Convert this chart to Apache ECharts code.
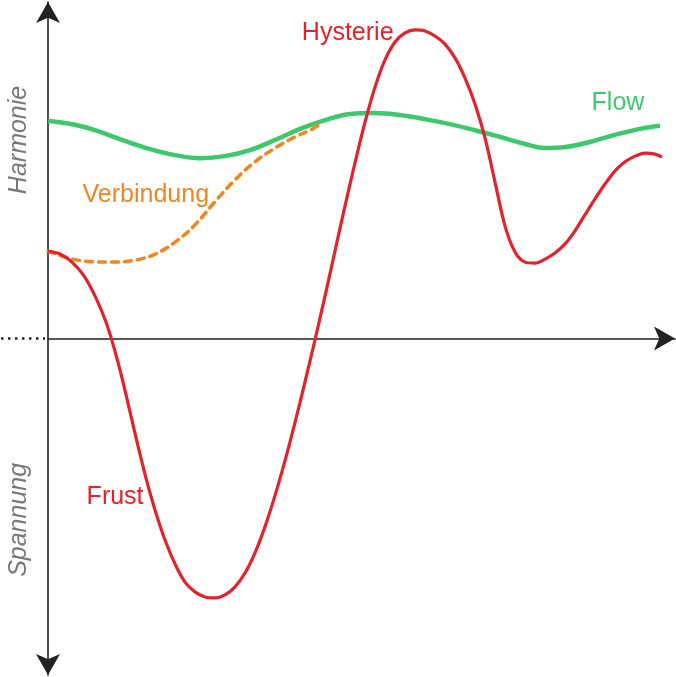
<!DOCTYPE html>
<html><head><meta charset="utf-8">
<script src="https://cdn.jsdelivr.net/npm/echarts@6/dist/echarts.min.js"></script>
<style>html,body{margin:0;padding:0;background:#fff}#c{width:676px;height:677px}</style>
</head><body><div id="c"></div>
<script>
// Schematic curves, x in 0..100 (time), y in -100..100 (Spannung .. Harmonie)
const redCurve = [[0,26.0],[1.91,25.1],[3.83,22.7],[5.74,18.6],[7.66,12.0],[9.25,4.9],[10.53,-2.8],[11.80,-11.7],[13.08,-21.8],[14.35,-31.9],[15.63,-41.5],[17.07,-51.0],[18.66,-59.9],[20.26,-67.0],[21.85,-72.4],[23.44,-75.3],[25.04,-76.8],[26.63,-77.1],[28.23,-76.2],[29.82,-73.8],[31.42,-69.7],[33.01,-63.7],[34.61,-55.9],[36.20,-46.7],[37.80,-36.3],[39.39,-25.0],[40.99,-12.9],[42.58,-0.4],[44.18,12.6],[45.77,26.0],[47.37,39.4],[48.96,52.2],[50.56,64.3],[52.15,74.7],[53.75,82.8],[55.34,88.1],[56.94,90.8],[58.53,91.7],[60.13,91.4],[61.72,89.9],[63.32,87.5],[64.91,83.4],[66.51,77.4],[68.10,69.7],[69.70,59.6],[71.29,46.5],[72.89,33.4],[74.48,25.7],[76.08,22.7],[77.67,22.4],[79.27,23.6],[80.86,25.4],[82.46,28.1],[84.05,32.0],[85.65,36.8],[87.24,41.5],[88.84,45.9],[90.43,49.8],[92.03,52.5],[93.62,54.2],[95.22,55.1],[96.81,54.8],[97.93,53.9]];
const greenCurve = [[0,64.7],[4.3,63.5],[8.3,61.4],[12.3,58.7],[16.3,56.3],[20.3,54.5],[24.2,53.6],[28.2,54.2],[32.2,56.0],[36.2,59.0],[40.2,62.3],[44.2,64.9],[48.2,66.7],[52.2,67.0],[56.1,66.4],[60.1,65.2],[64.1,63.7],[68.1,61.9],[72.1,59.9],[76.1,57.8],[79.3,56.6],[82.5,56.9],[86.4,58.4],[90.4,60.5],[94.4,62.3],[97.6,63.2]];
const orangeCurve = [[0,26.0],[2.7,24.2],[5.9,23.0],[9.9,22.7],[13.9,23.3],[17.1,25.1],[20.3,28.7],[23.4,33.7],[26.6,40.6],[29.8,47.1],[33.0,52.5],[36.2,56.6],[39.4,59.9],[41.8,61.9],[43.4,63.7]];
const negativeAxisStub = [[-7.66,0],[0,0]];
const curveLabels = [
  {name:'Hysterie', value:[47.8,90.8], color:'#e3222b'},
  {name:'Flow', value:[90.9,70.0], color:'#3cc96b'},
  {name:'Verbindung', value:[15.6,42.6], color:'#f0861f'},
  {name:'Frust', value:[10.7,-47.1], color:'#e3222b'}
];
const axisTitles = ['Harmonie','Spannung'];
const axisTitleY = [59.0,-53.9];

const chart = echarts.init(document.getElementById('c'));
const FONT = 'Liberation Sans, Arial, sans-serif';
chart.setOption({
  animation:false,
  backgroundColor:'#fff',
  grid:{left:48,right:1,top:2,bottom:2},
  xAxis:{type:'value',min:0,max:100,
    axisLine:{onZero:true,symbol:['none','arrow'],symbolSize:[18,21],lineStyle:{color:'#222',width:1.6}},
    axisTick:{show:false},axisLabel:{show:false},splitLine:{show:false}},
  yAxis:{type:'value',min:-100,max:100,
    axisLine:{onZero:true,symbol:['arrow','arrow'],symbolSize:[18,21],lineStyle:{color:'#222',width:1.6}},
    axisTick:{show:false},axisLabel:{show:false},splitLine:{show:false}},
  series:[
    {type:'line',data:greenCurve,smooth:0.4,symbol:'none',lineStyle:{color:'#3cc96b',width:4.5},z:2},
    {type:'line',data:orangeCurve,smooth:0.4,symbol:'none',lineStyle:{color:'#f0861f',width:3.5,type:[7,6],cap:'round'},z:3},
    {type:'line',data:redCurve,smooth:0.3,symbol:'none',lineStyle:{color:'#e3222b',width:3.2},z:4},
    {type:'scatter',symbolSize:0,clip:false,silent:true,itemStyle:{opacity:1},
     data:curveLabels.map(d=>({name:d.name,value:d.value,label:{color:d.color}})),
     label:{show:true,position:'inside',formatter:'{b}',fontSize:25,fontFamily:FONT}},
  ]
});
const toPx = v => chart.convertToPixel({xAxisIndex:0,yAxisIndex:0}, v);
const titleGraphics = axisTitles.map((t,i)=>{
  const p = toPx([0,axisTitleY[i]]);
  return {type:'text',x:p[0]-29,y:p[1],rotation:Math.PI/2,
    style:{text:t,font:'italic 25px '+FONT,fill:'#777777',align:'center',verticalAlign:'middle'}};
});
const s0 = toPx(negativeAxisStub[0]), s1 = toPx(negativeAxisStub[1]);
titleGraphics.push({type:'line',shape:{x1:s0[0]+1,y1:s0[1],x2:s1[0]-3,y2:s1[1]},
  style:{stroke:'#222',lineWidth:2.4,lineDash:[2.5,4.5]}});
chart.setOption({graphic:titleGraphics});
</script></body></html>
